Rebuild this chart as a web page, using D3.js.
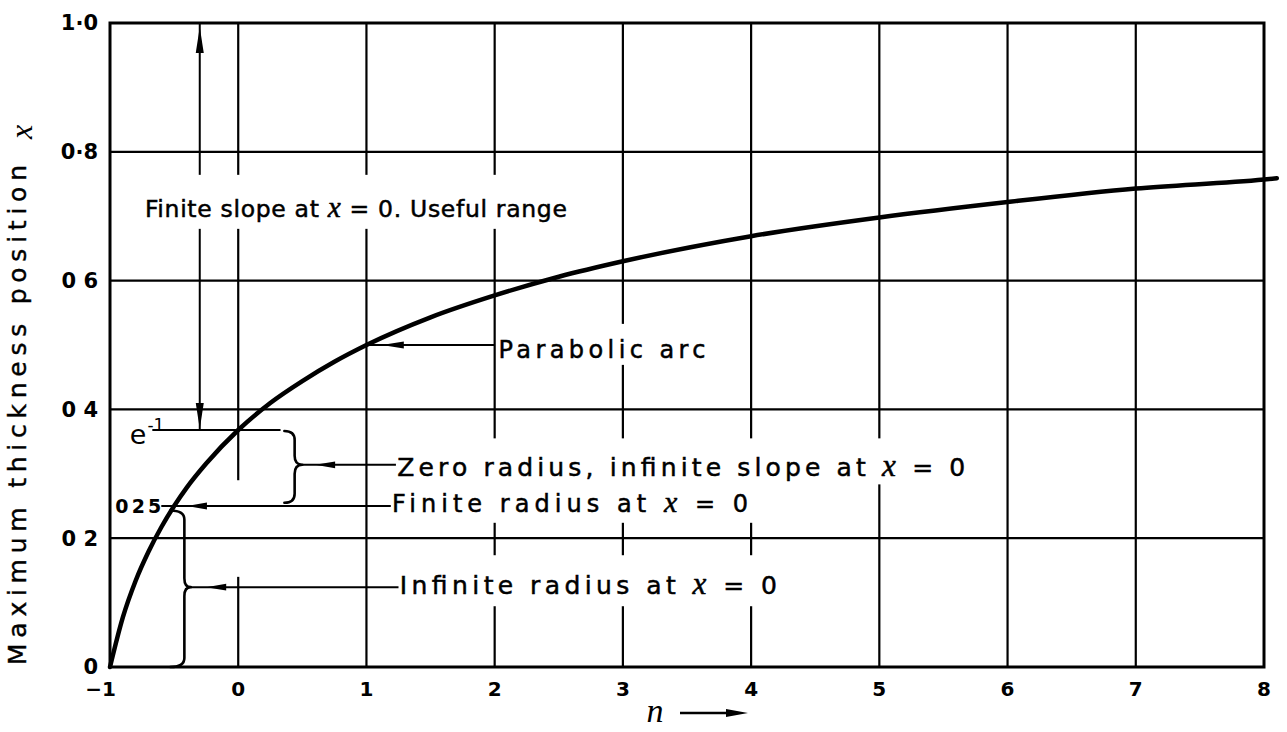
<!DOCTYPE html>
<html>
<head>
<meta charset="utf-8">
<script src="https://cdn.jsdelivr.net/npm/d3@7"></script>
<style>
  html, body { margin: 0; padding: 0; background: #fff; }
  svg { display: block; }
</style>
</head>
<body>
<svg id="chart" width="1287" height="732"></svg>
<script>
// Exponent n of the thickness law and the resulting chordwise position x of maximum thickness
const nValues      = [-1, -0.9, -0.8, -0.7, -0.6, -0.5, -0.4, -0.25, 0, 0.25, 0.5, 0.75, 1, 1.5, 2, 2.5, 3, 4, 5, 6, 7, 8, 8.1];
const thicknessPos = [0, 0.077, 0.134, 0.179, 0.217, 0.25, 0.279, 0.316, 0.368, 0.41, 0.444, 0.474, 0.5, 0.543, 0.577, 0.606, 0.63, 0.669, 0.698, 0.722, 0.743, 0.757, 0.759];

// Axis ticks
const xTickValues = [-1, 0, 1, 2, 3, 4, 5, 6, 7, 8];
const xTickLabels = ["\u22121", "0", "1", "2", "3", "4", "5", "6", "7", "8"];
const yTickValues = [0, 0.2, 0.4, 0.6, 0.8, 1.0];
const yTickLabels = ["0", "0 2", "0 4", "0 6", "0\u00b78", "1\u00b70"];

// Marked values on the curve
const eInverse   = 0.368;   // x at n = 0
const quarterPos = 0.25;    // x at n = -1/2
const parabolicN = 1, parabolicX = 0.5;

const svg = d3.select("#chart");
const x = d3.scaleLinear().domain([-1, 8]).range([110, 1264]);
const y = d3.scaleLinear().domain([0, 1]).range([667, 23]);

const SANS = "'DejaVu Sans', sans-serif";
const SERIF = "'Liberation Serif', 'DejaVu Serif', serif";

const gVert = svg.append("g");
const gMask = svg.append("g");
const gHorz = svg.append("g");
const gTop  = svg.append("g");

// vertical grid lines
gVert.selectAll("line").data(xTickValues.slice(1, -1)).join("line")
  .attr("x1", d => x(d)).attr("x2", d => x(d))
  .attr("y1", y(1)).attr("y2", y(0))
  .attr("stroke", "#000").attr("stroke-width", 2.2);

// long double-headed arrow: useful range from e^-1 up to 1
const arrowN = -0.3;
gVert.append("line")
  .attr("x1", x(arrowN)).attr("x2", x(arrowN))
  .attr("y1", y(1)).attr("y2", y(eInverse))
  .attr("stroke", "#000").attr("stroke-width", 2);

// break in the n = 0 grid line beside the lower braces
gMask.append("rect")
  .attr("x", x(0) - 4).attr("width", 8)
  .attr("y", y(0.29)).attr("height", y(0.14) - y(0.29))
  .attr("fill", "#fff");

// horizontal grid lines
gHorz.selectAll("line").data(yTickValues.slice(1, -1)).join("line")
  .attr("x1", x(-1)).attr("x2", x(8))
  .attr("y1", d => y(d)).attr("y2", d => y(d))
  .attr("stroke", "#000").attr("stroke-width", 2.2);

// frame
gHorz.append("rect")
  .attr("x", x(-1)).attr("y", y(1))
  .attr("width", x(8) - x(-1)).attr("height", y(0) - y(1))
  .attr("fill", "none").attr("stroke", "#000").attr("stroke-width", 3);

// the curve
const line = d3.line().x(d => x(d[0])).y(d => y(d[1])).curve(d3.curveMonotoneX);
gTop.append("path")
  .datum(nValues.map((n, i) => [n, thicknessPos[i]]))
  .attr("d", line)
  .attr("fill", "none").attr("stroke", "#000")
  .attr("stroke-width", 4.5).attr("stroke-linecap", "round");

// helpers
function arrowHead(g, tipX, tipY, dir, len = 20, half = 3.6) {
  let pts;
  if (dir === "left")  pts = [[tipX, tipY], [tipX + len, tipY - half], [tipX + len, tipY + half]];
  if (dir === "right") pts = [[tipX, tipY], [tipX - len, tipY - half], [tipX - len, tipY + half]];
  if (dir === "up")    pts = [[tipX, tipY], [tipX - half, tipY + len], [tipX + half, tipY + len]];
  if (dir === "down")  pts = [[tipX, tipY], [tipX - half, tipY - len], [tipX + half, tipY - len]];
  g.append("path").attr("d", "M" + pts.map(p => p.join(",")).join("L") + "Z").attr("fill", "#000");
}

function brace(g, xEnd, xSpine, xTip, yTop, yBot, yTip, r = 9) {
  const d = `M${xEnd},${yTop} Q${xSpine},${yTop} ${xSpine},${yTop + r} L${xSpine},${yTip - r}
    Q${xSpine},${yTip} ${xTip},${yTip} Q${xSpine},${yTip} ${xSpine},${yTip + r}
    L${xSpine},${yBot - r} Q${xSpine},${yBot} ${xEnd},${yBot}`;
  g.append("path").attr("d", d).attr("fill", "none").attr("stroke", "#000")
    .attr("stroke-width", 2.6).attr("stroke-linecap", "round").attr("stroke-linejoin", "round");
}

// label made of plain and italic-x parts, stretched to a given length, with a white backing box
function label(parts, px, py, len, size, pad) {
  const t = gTop.append("text")
    .attr("x", px).attr("y", py)
    .attr("font-family", SANS).attr("font-size", size)
    .attr("fill", "#000").attr("stroke", "#000").attr("stroke-width", 0.5);
  if (len) t.attr("textLength", len).attr("lengthAdjust", "spacing");
  parts.forEach(p => {
    const s = t.append("tspan").text(p.t);
    if (p.it) s.attr("font-family", SERIF).attr("font-style", "italic").attr("font-size", size * 1.25);
  });
  if (pad) {
    const b = t.node().getBBox();
    gMask.append("rect")
      .attr("x", b.x - pad[0]).attr("y", b.y - pad[1])
      .attr("width", b.width + pad[0] + pad[2]).attr("height", b.height + pad[1] + pad[3])
      .attr("fill", "#fff");
  }
  return t;
}

// double arrow heads
arrowHead(gTop, x(arrowN), y(1) + 4, "up", 26, 4);
arrowHead(gTop, x(arrowN), y(eInverse) - 1, "down", 26, 4);

// e^-1 level
gTop.append("line")
  .attr("x1", x(-0.67)).attr("x2", x(0.33))
  .attr("y1", y(eInverse)).attr("y2", y(eInverse))
  .attr("stroke", "#000").attr("stroke-width", 2);
const eLab = gTop.append("text")
  .attr("x", x(-0.845)).attr("y", y(eInverse) + 14)
  .attr("font-family", SANS).attr("font-size", 27);
eLab.append("tspan").text("e");
eLab.append("tspan").attr("font-size", 17).attr("dy", -13).attr("dx", 1).text("-1");

// Finite slope label
label([{t: "Finite slope at "}, {t: "x", it: true}, {t: " = 0. Useful range"}],
  x(-0.728), y(0.699), 422, 23.5, [5, 16, 8, 6]);

// Parabolic arc
gTop.append("line")
  .attr("x1", x(parabolicN)).attr("x2", x(2.0))
  .attr("y1", y(parabolicX)).attr("y2", y(parabolicX))
  .attr("stroke", "#000").attr("stroke-width", 2);
arrowHead(gTop, x(1.12), y(parabolicX), "left", 22, 3.4);
label([{t: "Parabolic  arc"}], x(2.03), y(0.48), 207, 24, [2, 12, 7, 1]);

// Zero radius brace
brace(gTop, x(0.36), x(0.44), x(0.5), y(eInverse) + 1, y(0.255), y(0.314));
gTop.append("line")
  .attr("x1", x(0.5)).attr("x2", x(1.23))
  .attr("y1", y(0.314)).attr("y2", y(0.314))
  .attr("stroke", "#000").attr("stroke-width", 2);
arrowHead(gTop, x(0.6), y(0.314), "left", 20, 3.4);
label([{t: "Zero  radius,  infinite  slope  at  "}, {t: "x", it: true}, {t: " = 0"}],
  x(1.24), y(0.296), 568, 25, [3, 10, 6, 1]);

// Finite radius at quarter chord value
gTop.append("line")
  .attr("x1", x(-0.6)).attr("x2", x(1.19))
  .attr("y1", y(quarterPos)).attr("y2", y(quarterPos))
  .attr("stroke", "#000").attr("stroke-width", 2);
arrowHead(gTop, x(-0.4), y(quarterPos), "left", 20, 3.4);
gTop.append("text")
  .attr("x", x(-0.6)).attr("y", y(quarterPos) + 7)
  .attr("text-anchor", "end")
  .attr("font-family", SANS).attr("font-weight", "bold").attr("font-size", 19)
  .attr("textLength", 46).attr("lengthAdjust", "spacing")
  .text("025");
label([{t: "Finite  radius  at  "}, {t: "x", it: true}, {t: " = 0"}],
  x(1.2), y(0.241), 356, 24, [3, 2, 6, 5]);

// Infinite radius brace
brace(gTop, x(-0.53), x(-0.42), x(-0.37), y(0.243), y(0), y(0.124));
gTop.append("line")
  .attr("x1", x(-0.37)).attr("x2", x(1.25))
  .attr("y1", y(0.124)).attr("y2", y(0.124))
  .attr("stroke", "#000").attr("stroke-width", 2);
arrowHead(gTop, x(-0.25), y(0.124), "left", 20, 3.4);
label([{t: "Infinite  radius  at  "}, {t: "x", it: true}, {t: " = 0"}],
  x(1.26), y(0.113), 377, 25, [3, 11, 6, 5]);

// y tick labels
gTop.append("g").selectAll("text").data(yTickValues).join("text")
  .attr("x", x(-1) - 12).attr("y", d => y(d)).attr("dy", "0.35em")
  .attr("text-anchor", "end")
  .attr("font-family", SANS).attr("font-weight", "bold").attr("font-size", 21)
  .text((d, i) => yTickLabels[i]);

// x tick labels
gTop.append("g").selectAll("text").data(xTickValues).join("text")
  .attr("x", d => x(d) + (d === -1 ? 6 : 0)).attr("y", y(0) + 22).attr("dy", "0.35em")
  .attr("text-anchor", d => d === -1 ? "end" : "middle")
  .attr("font-family", SANS).attr("font-weight", "bold").attr("font-size", 20)
  .text((d, i) => xTickLabels[i]);

// x axis title: n with arrow
gTop.append("text")
  .attr("x", 655).attr("y", 722).attr("text-anchor", "middle")
  .attr("font-family", SERIF).attr("font-style", "italic").attr("font-size", 34)
  .text("n");
gTop.append("line").attr("x1", 680).attr("x2", 735).attr("y1", 713).attr("y2", 713)
  .attr("stroke", "#000").attr("stroke-width", 2.4);
arrowHead(gTop, 748, 713, "right", 22, 4);

// y axis title
gTop.append("text")
  .attr("transform", "translate(26,665) rotate(-90)")
  .attr("font-family", SANS).attr("font-size", 25)
  .attr("stroke", "#000").attr("stroke-width", 0.4)
  .attr("textLength", 500).attr("lengthAdjust", "spacing")
  .text("Maximum thickness position");
gTop.append("text")
  .attr("transform", "translate(32,132) rotate(-90)")
  .attr("text-anchor", "middle")
  .attr("font-family", SERIF).attr("font-style", "italic").attr("font-size", 32)
  .text("x");
</script>
</body>
</html>
